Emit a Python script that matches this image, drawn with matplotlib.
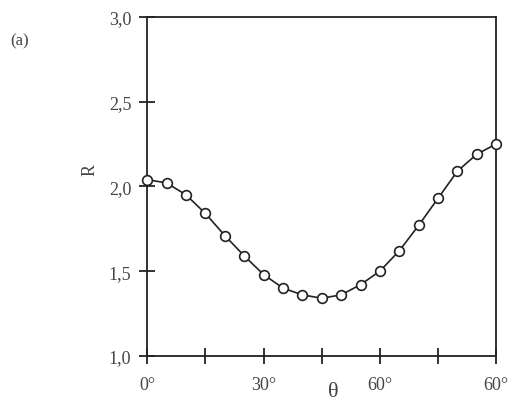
import matplotlib.pyplot as plt

# Data (theta in degrees, R)
theta = [0, 5, 10, 15, 20, 25, 30, 35, 40, 45, 50, 55, 60, 65, 70, 75, 80, 85, 90]
r_values = [2.04, 2.02, 1.95, 1.84, 1.71, 1.59, 1.48, 1.40, 1.36, 1.34,
            1.36, 1.42, 1.50, 1.62, 1.77, 1.93, 2.09, 2.19, 2.25]

x_ticks = [0, 15, 30, 45, 60, 75, 90]
x_tick_labels = ["0°", "", "30°", "", "60°", "", "60°"]
y_ticks = [1.0, 1.5, 2.0, 2.5, 3.0]
y_tick_labels = ["1,0", "1,5", "2,0", "2,5", "3,0"]

plt.rcParams["font.family"] = ["Liberation Serif", "DejaVu Serif"]

text_color = "#444444"
line_color = "#222222"

fig = plt.figure(figsize=(5.24, 4.06), dpi=100)
ax = fig.add_axes([0.281, 0.121, 0.666, 0.835])

ax.plot(theta, r_values, color=line_color, linewidth=1.2,
        marker="o", markersize=7, markerfacecolor="white",
        markeredgecolor=line_color, markeredgewidth=1.2, clip_on=False, zorder=3)

ax.set_xlim(0, 90)
ax.set_ylim(1.0, 3.0)
ax.set_xticks(x_ticks)
ax.set_xticklabels(x_tick_labels)
ax.set_yticks(y_ticks)
ax.set_yticklabels(y_tick_labels)

for spine in ax.spines.values():
    spine.set_color(line_color)
    spine.set_linewidth(1.3)

ax.tick_params(axis="x", direction="inout", length=11, width=1.3,
               color=line_color, labelcolor=text_color, labelsize=13, pad=9)
ax.tick_params(axis="y", direction="inout", length=11, width=1.3,
               color=line_color, labelcolor=text_color, labelsize=13, pad=6)

ax.set_ylabel("R", fontsize=13, color=text_color, va="center")
ax.yaxis.set_label_coords(-0.163, 0.55)
ax.set_xlabel("θ", fontsize=16, color=text_color, va="center")
ax.xaxis.set_label_coords(0.533, -0.106)

fig.text(0.038, 0.897, "(a)", fontsize=12, color=text_color,
         ha="center", va="center")

fig.savefig("out.png", dpi=100)
